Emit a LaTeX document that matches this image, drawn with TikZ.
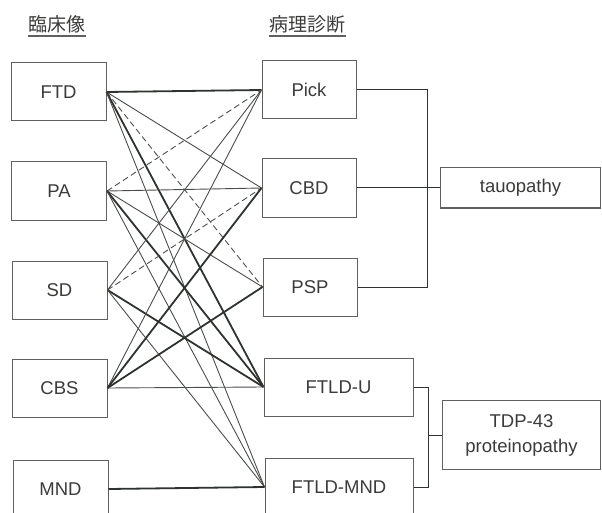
\documentclass[tikz,border=0pt]{standalone}
\usepackage{fontspec}
\setmainfont{Liberation Sans}
\newfontfamily\jpfont{Noto Sans CJK JP}
\definecolor{boxc}{HTML}{5E615E}
\definecolor{txtc}{HTML}{3A3C3A}
\definecolor{lnc}{HTML}{2F332F}
\definecolor{lnl}{HTML}{4A4E4A}
\begin{document}
\begin{tikzpicture}[x=1pt,y=-1pt,
  box/.style={draw=boxc, line width=1pt, minimum height=58pt, inner sep=0pt,
    text=txtc, font=\fontsize{18.5}{22}\selectfont},
  hdr/.style={inner sep=0pt, text=txtc, font=\jpfont\fontsize{19}{22}\selectfont},
  ul/.style={draw=boxc, line width=1.1pt},
  lnthick/.style={draw=lnc, line width=1.8pt},
  lnthin/.style={draw=lnl, line width=0.9pt},
  lndash/.style={draw=lnl, line width=0.9pt, dash pattern=on 6pt off 3.5pt},
  brk/.style={draw=lnc, line width=1pt}]
\useasboundingbox (0,0) rectangle (602,513);
\clip (0,0) rectangle (602,513);
\fill[white] (0,0) rectangle (602,513);

% headers
\node[hdr] (h1) at (57,24) {臨床像};
\node[hdr] (h2) at (307.5,24) {病理診断};
\draw[ul] ([yshift=-3pt]h1.south west) -- ([yshift=-3pt]h1.south east);
\draw[ul] ([yshift=-3pt]h2.south west) -- ([yshift=-3pt]h2.south east);

% clinical
\node[box, minimum width=95pt] (ftd) at (58.5,92) {FTD};
\node[box, minimum width=95pt] (pa)  at (59,191) {PA};
\node[box, minimum width=95pt] (sd)  at (59.5,290) {SD};
\node[box, minimum width=95pt] (cbs) at (59.5,388) {CBS};
\node[box, minimum width=95pt] (mnd) at (60.5,489) {MND};

% pathology
\node[box, minimum width=94pt] (pick) at (309,90) {Pick};
\node[box, minimum width=94pt] (cbd)  at (309,188) {CBD};
\node[box, minimum width=94pt] (psp)  at (310,287) {PSP};
\node[box, minimum width=149pt] (ftldu) at (338.5,387) {FTLD-U};
\node[box, minimum width=148pt] (ftldmnd) at (339,487) {FTLD-MND};

% groups
\node[box, minimum width=160pt, minimum height=40pt] (tau) at (520.5,188) {tauopathy};
\node[box, minimum width=158pt, minimum height=69pt, align=center,
      font=\fontsize{18.5}{25}\selectfont] (tdp) at (521.5,435) {TDP-43\\proteinopathy};

% connections clinical -> pathology
\draw[lnthick] (ftd.east) -- (pick.west);
\draw[lnthin]  (ftd.east) -- (cbd.west);
\draw[lndash]  (ftd.east) -- (psp.west);
\draw[lnthick] (ftd.east) -- (ftldu.west);
\draw[lnthin]  (ftd.east) -- (ftldmnd.west);

\draw[lndash]  (pa.east) -- (pick.west);
\draw[lnthin]  (pa.east) -- (cbd.west);
\draw[lnthin]  (pa.east) -- (psp.west);
\draw[lnthick] (pa.east) -- (ftldu.west);
\draw[lnthin]  (pa.east) -- (ftldmnd.west);

\draw[lnthin]  (sd.east) -- (pick.west);
\draw[lndash]  (sd.east) -- (cbd.west);
\draw[lnthick] (sd.east) -- (ftldu.west);
\draw[lnthin]  (sd.east) -- (ftldmnd.west);

\draw[lnthin]  (cbs.east) -- (pick.west);
\draw[lnthick] (cbs.east) -- (cbd.west);
\draw[lnthick] (cbs.east) -- (psp.west);
\draw[lnthin]  (cbs.east) -- (ftldu.west);

\draw[lnthick] (mnd.east) -- (ftldmnd.west);

% brackets
\draw[brk] (pick.east) -- ++(71,0) |- (psp.east);
\draw[brk] (cbd.east) -- (tau.west);
\draw[brk] (ftldu.east) -- ++(15,0) |- (ftldmnd.east);
\coordinate (tj) at (428,435);
\draw[brk] (tj) -- (tdp.west);
\end{tikzpicture}
\end{document}
